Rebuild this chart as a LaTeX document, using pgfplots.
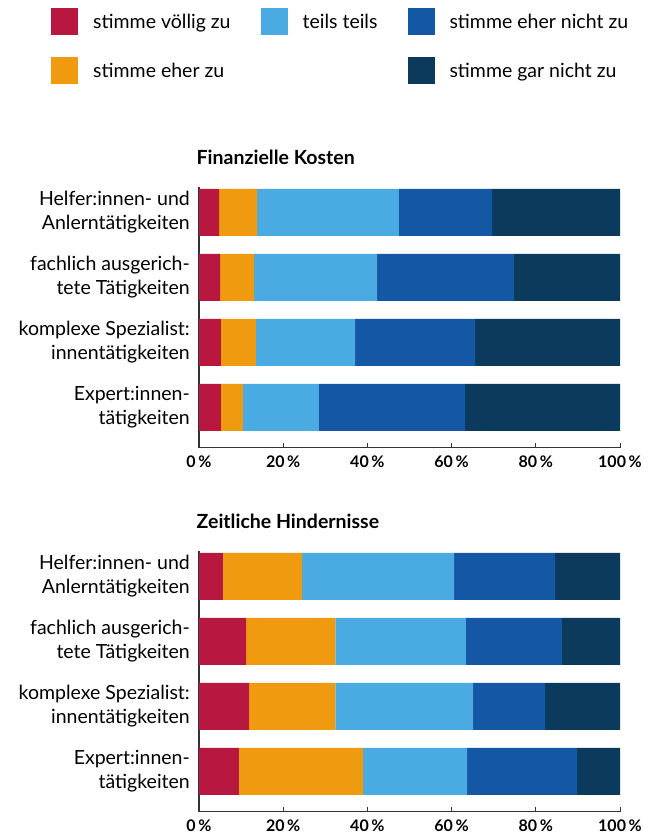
\documentclass[border=0pt]{standalone}
\usepackage{fontspec}
\setmainfont{Lato}
\usepackage{pgfplots}
\usepackage{pgfplotstable}
\pgfplotsset{compat=1.18}
\definecolor{cA}{RGB}{184,23,63}
\definecolor{cB}{RGB}{240,155,15}
\definecolor{cC}{RGB}{73,171,226}
\definecolor{cD}{RGB}{20,87,165}
\definecolor{cE}{RGB}{12,58,92}

% idx: 0 Helfer, 1 fachlich, 2 komplexe, 3 Expert
\pgfplotstableread{
idx a b c d e
0 4.8 9.0 33.7 22.1 30.4
1 5.0 8.1 29.2 32.5 25.2
2 5.2 8.3 23.6 28.5 34.4
3 5.2 5.2 18.1 34.7 36.8
}\kosten
\pgfplotstableread{
idx a b c d e
0 5.7 18.8 36.1 24.0 15.4
1 11.2 21.2 31.0 22.8 13.8
2 11.9 20.5 32.7 17.1 17.8
3 9.5 29.5 24.7 26.1 10.2
}\zeit

\pgfplotsset{
  mybar/.style={
    xbar stacked,
    scale only axis,
    width=421pt, height=260.7pt,
    xmin=0, xmax=100,
    ymin=-0.39, ymax=3.62,
    y dir=reverse,
    bar width=47pt,
    axis x line*=bottom,
    axis y line*=left,
    axis line style={black!80, line width=1.3pt},
    ytick={0,1,2,3},
    yticklabels={{Helfer:innen- und\\Anlerntätigkeiten},{fachlich ausgerich-\\tete Tätigkeiten},{komplexe Spezialist:\\innentätigkeiten},{Expert:innen-\\tätigkeiten}},
    yticklabel style={align=right, font=\fontsize{19.5}{24}\selectfont, inner sep=0pt, xshift=-9pt},
    ytick style={draw=none},
    xtick={0,20,40,60,80,100},
    xticklabels={0\,\%,20\,\%,40\,\%,60\,\%,80\,\%,100\,\%},
    xticklabel style={font=\bfseries\fontsize{16}{18}\selectfont, inner sep=0pt, yshift=-8pt},
    tick align=inside,
    major tick length=5pt,
    xtick style={black!80, line width=1pt},
    title style={at={(0,1)}, anchor=base west, yshift=16.5pt, xshift=-2.5pt, inner sep=0pt, font=\bfseries\fontsize{19.5}{23}\selectfont},
    clip=false,
  },
  every axis plot/.append style={draw=none},
}

\begin{document}
\begin{tikzpicture}
\useasboundingbox (0,0) rectangle (655pt,838pt);

\begin{axis}[mybar,
  at={(199pt,390.3pt)}, anchor=south west,
  title={Finanzielle Kosten},
  legend columns=3,
  legend cell align=left,
  legend image code/.code={\path[#1] (0pt,-13.5pt) rectangle (27pt,13.5pt);},
  legend style={at={(-0.3515,1.6885)}, anchor=north west, draw=none, fill=none, inner sep=0pt,
    font=\fontsize{19.5}{24}\selectfont, row sep=22pt,
    /tikz/every even column/.append style={column sep=30pt},
    nodes={inner sep=0pt, text depth=0pt}},
]
\addplot[fill=cA, forget plot] table[x=a, y=idx] {\kosten};
\addplot[fill=cB, forget plot] table[x=b, y=idx] {\kosten};
\addplot[fill=cC, forget plot] table[x=c, y=idx] {\kosten};
\addplot[fill=cD, forget plot] table[x=d, y=idx] {\kosten};
\addplot[fill=cE, forget plot] table[x=e, y=idx] {\kosten};
\addlegendimage{fill=cA}
\addlegendentry{\hspace{15pt}stimme völlig zu}
\addlegendimage{fill=cC}
\addlegendentry{\hspace{15pt}teils teils}
\addlegendimage{fill=cD}
\addlegendentry{\hspace{15pt}stimme eher nicht zu}
\addlegendimage{fill=cB}
\addlegendentry{\hspace{15pt}stimme eher zu}
\addlegendimage{empty legend}
\addlegendentry{}
\addlegendimage{fill=cE}
\addlegendentry{\hspace{15pt}stimme gar nicht zu}
\end{axis}

\begin{axis}[mybar,
  at={(199pt,26.3pt)}, anchor=south west,
  title={Zeitliche Hindernisse},
]
\addplot[fill=cA] table[x=a, y=idx] {\zeit};
\addplot[fill=cB] table[x=b, y=idx] {\zeit};
\addplot[fill=cC] table[x=c, y=idx] {\zeit};
\addplot[fill=cD] table[x=d, y=idx] {\zeit};
\addplot[fill=cE] table[x=e, y=idx] {\zeit};
\end{axis}
\end{tikzpicture}
\end{document}
